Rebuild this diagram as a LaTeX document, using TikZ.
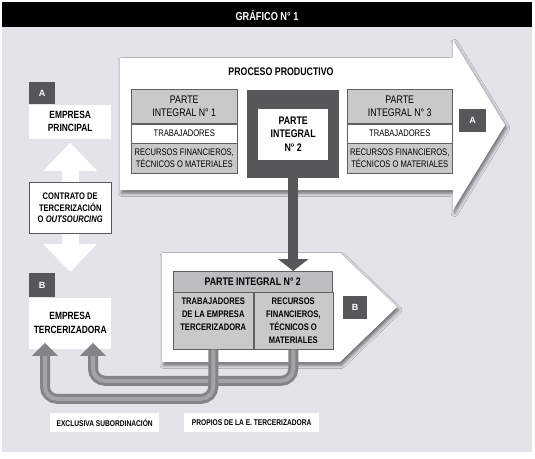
\documentclass[tikz,border=0pt]{standalone}
\usepackage{fontspec}
\setmainfont[FakeStretch=0.8]{Liberation Sans}
\newfontfamily\letrafont{Liberation Sans}
\usetikzlibrary{positioning,arrows.meta,shadows.blur}

\definecolor{fondo}{HTML}{E3E4E8}
\definecolor{oscuro}{HTML}{575759}
\definecolor{grisclaro}{HTML}{C9C9CA}
\definecolor{griscab}{HTML}{BDBDBF}
\definecolor{colTubo}{HTML}{848486}
\definecolor{colBrillo}{HTML}{A4A4A6}

\tikzset{
  celda/.style={draw=gray!75!black, line width=0.5pt, inner sep=1pt, align=center, anchor=north west},
  letra/.style={fill=oscuro, text=white, font=\letrafont\bfseries\fontsize{9}{9}\selectfont,
    minimum width=26pt, minimum height=22pt, inner sep=0pt, anchor=north west},
  blanca/.style={fill=white, align=center, inner sep=0pt, anchor=north west, minimum width=82pt},
  sombra/.style={blur shadow={shadow xshift=1.5pt, shadow yshift=-3pt, shadow blur radius=3.5pt, shadow opacity=55}},
  tubo/.style={line width=10pt, draw=colTubo, rounded corners=12pt, -{Triangle[width=25pt,length=13pt]}},
  brillo/.style={line width=4pt, draw=colBrillo, rounded corners=12pt, shorten >=13pt},
  rotulo/.style={fill=white, inner sep=0pt, anchor=north west, minimum height=19pt,
    font=\bfseries\fontsize{8.3}{8.3}\selectfont}
}

\begin{document}
\begin{tikzpicture}[x=1pt,y=-1pt]
  \useasboundingbox (0,0) rectangle (535,458);

  % fondo y barra de titulo
  \fill[fondo] (2,27) rectangle (532,452);
  \fill[black] (2,2) rectangle (532,27);
  \node[text=white, font=\bfseries\fontsize{11.5}{11.5}\selectfont] (titulo) at (267,15) {GRÁFICO N° 1};

  % flecha grande A: proceso productivo
  \fill[white, sombra] (120,58) -- (453,58) -- (453,40) -- (505,125) -- (453,210) -- (453,190) -- (120,190) -- cycle;
  \node[font=\bfseries\fontsize{11}{11}\selectfont] (proceso) at (281,72) {PROCESO PRODUCTIVO};

  % parte integral 1
  \node[celda, fill=grisclaro, minimum width=106pt, minimum height=34pt, font=\fontsize{11}{13}\selectfont] (pi1cab) at (131,89) {PARTE\\INTEGRAL N° 1};
  \node[celda, fill=white, minimum width=106pt, minimum height=19pt, font=\fontsize{9.5}{11}\selectfont, below=0pt of pi1cab] (pi1trab) {TRABAJADORES};
  \node[celda, fill=grisclaro, minimum width=106pt, minimum height=30pt, font=\fontsize{9.5}{11.5}\selectfont, below=0pt of pi1trab] (pi1rec) {RECURSOS FINANCIEROS,\\TÉCNICOS O MATERIALES};

  % parte integral 2 (cuadro oscuro)
  \node[fill=oscuro, minimum width=92pt, minimum height=88pt, inner sep=0pt, anchor=north west] (pi2) at (247,90) {};
  \node[fill=white, minimum width=70pt, minimum height=51pt, align=center, font=\bfseries\fontsize{11}{13.5}\selectfont] (pi2txt) at (pi2.center) {PARTE\\INTEGRAL\\N° 2};

  % parte integral 3
  \node[celda, fill=grisclaro, minimum width=105pt, minimum height=34pt, font=\fontsize{11}{13}\selectfont] (pi3cab) at (347,89) {PARTE\\INTEGRAL N° 3};
  \node[celda, fill=white, minimum width=105pt, minimum height=19pt, font=\fontsize{9.5}{11}\selectfont, below=0pt of pi3cab] (pi3trab) {TRABAJADORES};
  \node[celda, fill=grisclaro, minimum width=105pt, minimum height=30pt, font=\fontsize{9.5}{11.5}\selectfont, below=0pt of pi3trab] (pi3rec) {RECURSOS FINANCIEROS,\\TÉCNICOS O MATERIALES};

  \node[letra, minimum width=27pt, minimum height=23pt] (letAder) at (459,109) {A};

  % flecha B: empresa tercerizadora
  \fill[white, sombra] (162,253) -- (340,253) -- (397,307) -- (340,362) -- (162,362) -- cycle;

  \node[celda, fill=griscab, minimum width=159pt, minimum height=21pt, font=\bfseries\fontsize{11}{11}\selectfont] (tabcab) at (173,271) {PARTE INTEGRAL N° 2};
  \node[celda, fill=grisclaro, minimum width=80pt, minimum height=57pt, font=\bfseries\fontsize{9.5}{13}\selectfont] (tabtrab) at (173,292) {TRABAJADORES\\DE LA EMPRESA\\TERCERIZADORA\\~};
  \node[celda, fill=grisclaro, minimum width=79pt, minimum height=57pt, font=\bfseries\fontsize{9.5}{13}\selectfont, right=0pt of tabtrab] (tabrec) {RECURSOS\\FINANCIEROS,\\TÉCNICOS O\\MATERIALES};

  \node[letra, minimum width=24pt, minimum height=23pt] (letBder) at (343,296) {B};

  % la parte integral 2 pasa a la tercerizadora
  \draw[line width=10pt, oscuro, -{Triangle[width=30pt,length=12pt]}] (pi2.south) -- (pi2.south |- tabcab.north);

  % lado izquierdo
  \node[letra] (letA) at (29,82) {A};
  \node[blanca, minimum height=34pt, font=\bfseries\fontsize{10.5}{13.5}\selectfont] (empA) at (letA.south west) {EMPRESA\\PRINCIPAL};
  \node[letra, minimum height=24pt] (letB) at (29,273) {B};
  \node[blanca, minimum height=51pt, font=\bfseries\fontsize{10.5}{14}\selectfont] (empB) at (letB.south west) {EMPRESA\\TERCERIZADORA};

  \draw[line width=17pt, white, {Triangle[width=52pt,length=28pt]}-{Triangle[width=52pt,length=28pt]}]
    ([yshift=-4pt]empA.south) -- ([yshift=1pt]empA.south |- letB.north);
  \node[blanca, draw=gray!70!black, line width=0.5pt, minimum height=51pt, font=\bfseries\fontsize{9.5}{11.5}\selectfont] (contrato) at (29,182) {CONTRATO DE\\TERCERIZACIÓN\\O \textit{OUTSOURCING}};

  % flechas curvas de vuelta a la empresa B
  \draw[tubo] (tabrec.south) |- ([xshift=64pt,yshift=-32pt]empB.south west) -- ([xshift=64pt,yshift=6pt]empB.south west);
  \draw[brillo] (tabrec.south) |- ([xshift=64pt,yshift=-32pt]empB.south west) -- ([xshift=64pt,yshift=6pt]empB.south west);
  \draw[tubo] (tabtrab.south) |- ([xshift=16pt,yshift=-50pt]empB.south west) -- ([xshift=16pt,yshift=6pt]empB.south west);
  \draw[brillo] (tabtrab.south) |- ([xshift=16pt,yshift=-50pt]empB.south west) -- ([xshift=16pt,yshift=6pt]empB.south west);

  % rotulos inferiores
  \node[rotulo, minimum width=109pt] (subord) at (50,413) {EXCLUSIVA SUBORDINACIÓN};
  \node[rotulo, minimum width=135pt] (propios) at (184,413) {PROPIOS DE LA E. TERCERIZADORA};
\end{tikzpicture}
\end{document}
